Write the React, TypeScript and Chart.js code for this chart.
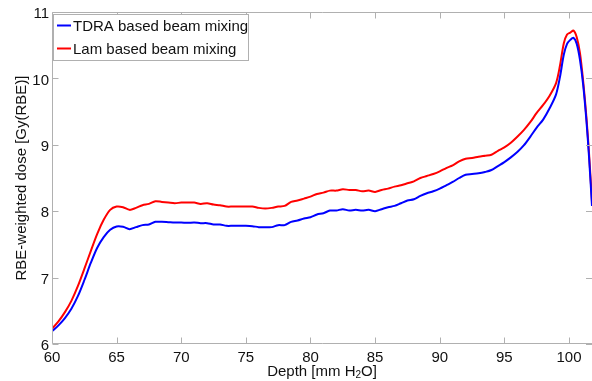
import React, { useEffect, useRef } from "react";
import { Chart, registerables } from "chart.js";

Chart.register(...registerables);

const depth = [
  60.0, 60.5, 61.0, 61.5, 62.0, 62.5, 63.0, 63.5, 64.0, 64.5, 65.0, 65.5, 66.0, 66.5, 67.0, 67.5,
  68.0, 68.5, 69.0, 69.5, 70.0, 70.5, 71.0, 71.5, 72.0, 72.5, 73.0, 73.5, 74.0, 74.5, 75.0, 75.5,
  76.0, 76.5, 77.0, 77.5, 78.0, 78.5, 79.0, 79.5, 80.0, 80.5, 81.0, 81.5, 82.0, 82.5, 83.0, 83.5,
  84.0, 84.5, 85.0, 85.5, 86.0, 86.5, 87.0, 87.5, 88.0, 88.5, 89.0, 89.5, 90.0, 90.5, 91.0, 91.5,
  92.0, 92.5, 93.0, 93.5, 94.0, 94.5, 95.0, 95.5, 96.0, 96.5, 97.0, 97.5, 98.0, 98.5, 99.0, 99.3,
  99.6, 99.85, 100.1, 100.35, 100.6, 100.85, 101.1, 101.35, 101.55, 101.78,
];

const tdraDose = [
  6.19, 6.28, 6.39, 6.53, 6.72, 6.96, 7.22, 7.45, 7.61, 7.72, 7.77, 7.765, 7.73, 7.76, 7.79, 7.8,
  7.84, 7.84, 7.835, 7.83, 7.83, 7.825, 7.83, 7.82, 7.82, 7.8, 7.8, 7.78, 7.78, 7.78, 7.78, 7.775,
  7.76, 7.76, 7.76, 7.79, 7.79, 7.84, 7.86, 7.89, 7.91, 7.95, 7.97, 8.01, 8.01, 8.03, 8.01, 8.02,
  8.01, 8.02, 8.0, 8.03, 8.06, 8.08, 8.12, 8.16, 8.18, 8.23, 8.27, 8.3, 8.34, 8.39, 8.44, 8.5,
  8.55, 8.56, 8.57, 8.59, 8.62, 8.68, 8.74, 8.81, 8.89, 8.99, 9.12, 9.26, 9.38, 9.55, 9.76, 10.02,
  10.36, 10.52, 10.58, 10.61, 10.52, 10.28, 9.9, 9.36, 8.82, 8.08,
];

const lamDose = [
  6.23, 6.34, 6.48, 6.65, 6.87, 7.13, 7.4, 7.66, 7.87, 8.02, 8.07, 8.06, 8.02, 8.05, 8.09, 8.11,
  8.15, 8.14, 8.13, 8.12, 8.13, 8.13, 8.13, 8.11, 8.12, 8.1, 8.09, 8.07, 8.07, 8.07, 8.07, 8.07,
  8.05, 8.04, 8.05, 8.07, 8.08, 8.14, 8.16, 8.19, 8.22, 8.26, 8.28, 8.31, 8.31, 8.33, 8.32, 8.32,
  8.3, 8.31, 8.29, 8.32, 8.34, 8.37, 8.39, 8.42, 8.45, 8.5, 8.53, 8.56, 8.6, 8.65, 8.69, 8.75,
  8.79, 8.8, 8.82, 8.835, 8.85, 8.91, 8.96, 9.03, 9.12, 9.22, 9.34, 9.48, 9.6, 9.74, 9.93, 10.19,
  10.53, 10.66, 10.69, 10.72, 10.62, 10.38, 9.95, 9.41, 8.87, 8.15,
];

const xTicks = [60, 65, 70, 75, 80, 85, 90, 95, 100];
const yTicks = [6, 7, 8, 9, 10, 11];
const seriesNames = ["TDRA based beam mixing", "Lam based beam mixing"];
const seriesColors = ["#0000ff", "#ff0000"];

const FONT = '"Liberation Sans", Arial, Helvetica, sans-serif';

const framePlugin = {
  id: "frame",
  afterDraw(chart: any) {
    const { ctx, chartArea } = chart;
    const { left, top, right, bottom } = chartArea;
    const xs = chart.scales.x;
    const ys = chart.scales.y;
    ctx.save();
    ctx.strokeStyle = "#b0b0b0";
    ctx.lineWidth = 1;
    const L = Math.round(left) + 0.5;
    const T = Math.round(top) + 0.5;
    const B = Math.round(bottom) - 0.5;
    const R = Math.round(right);
    ctx.beginPath();
    ctx.moveTo(L, T);
    ctx.lineTo(R, T);
    ctx.moveTo(L, T);
    ctx.lineTo(L, B);
    ctx.lineTo(R, B);
    const tl = 6;
    xTicks.forEach((v) => {
      const px = Math.round(xs.getPixelForValue(v)) + 0.5;
      ctx.moveTo(px, B);
      ctx.lineTo(px, B - tl);
      ctx.moveTo(px, T);
      ctx.lineTo(px, T + tl);
    });
    yTicks.forEach((v) => {
      const py = Math.round(ys.getPixelForValue(v)) + 0.5;
      ctx.moveTo(L, py);
      ctx.lineTo(L + tl, py);
      ctx.moveTo(R, py);
      ctx.lineTo(R - tl, py);
    });
    ctx.stroke();

    // axis titles
    ctx.fillStyle = "#111";
    ctx.font = `15px ${FONT}`;
    ctx.textAlign = "center";
    ctx.textBaseline = "middle";
    ctx.save();
    ctx.translate(22, (top + bottom) / 2);
    ctx.rotate(-Math.PI / 2);
    ctx.fillText("RBE-weighted dose [Gy(RBE)]", 0, 0);
    ctx.restore();

    const p1 = "Depth [mm H";
    const p2 = "2";
    const p3 = "O]";
    ctx.font = `15px ${FONT}`;
    const w1 = ctx.measureText(p1).width;
    const w3 = ctx.measureText(p3).width;
    ctx.font = `10px ${FONT}`;
    const w2 = ctx.measureText(p2).width;
    const total = w1 + w2 + w3;
    let sx = (left + right) / 2 - total / 2;
    const ty = 371.5;
    ctx.textAlign = "left";
    ctx.font = `15px ${FONT}`;
    ctx.fillText(p1, sx, ty);
    sx += w1;
    ctx.font = `10px ${FONT}`;
    ctx.fillText(p2, sx, ty + 4);
    sx += w2;
    ctx.font = `15px ${FONT}`;
    ctx.fillText(p3, sx, ty);

    // legend
    const lx = 53.5;
    const ly = 14.5;
    const lw = 195;
    const lh = 46;
    ctx.fillStyle = "#ffffff";
    ctx.fillRect(lx, ly, lw, lh);
    ctx.strokeStyle = "#b0b0b0";
    ctx.lineWidth = 1;
    ctx.strokeRect(lx, ly, lw, lh);
    const rows = [25.5, 48.5];
    seriesNames.forEach((name, i) => {
      ctx.strokeStyle = seriesColors[i];
      ctx.lineWidth = 2;
      ctx.beginPath();
      ctx.moveTo(57, rows[i]);
      ctx.lineTo(71, rows[i]);
      ctx.stroke();
      ctx.fillStyle = "#111";
      ctx.font = `15px ${FONT}`;
      ctx.textAlign = "left";
      ctx.textBaseline = "middle";
      ctx.fillText(name, 73, rows[i] + 1.5);
    });
    ctx.restore();
  },
};

export default function App() {
  const canvasRef = useRef<HTMLCanvasElement | null>(null);

  useEffect(() => {
    document.body.style.margin = "0";
    document.body.style.overflow = "hidden";
    const canvas = canvasRef.current;
    if (!canvas) return;
    const chart = new Chart(canvas, {
      type: "line",
      data: {
        datasets: [
          {
            label: seriesNames[0],
            data: depth.map((d, i) => ({ x: d, y: tdraDose[i] })),
            borderColor: seriesColors[0],
            backgroundColor: seriesColors[0],
            borderWidth: 2,
            pointRadius: 0,
            tension: 0.3,
            fill: false,
          },
          {
            label: seriesNames[1],
            data: depth.map((d, i) => ({ x: d, y: lamDose[i] })),
            borderColor: seriesColors[1],
            backgroundColor: seriesColors[1],
            borderWidth: 2,
            pointRadius: 0,
            tension: 0.3,
            fill: false,
          },
        ],
      },
      options: {
        responsive: false,
        animation: false,
        devicePixelRatio: 1,
        layout: { padding: { top: 12, right: 0, bottom: 0, left: 0 } },
        plugins: {
          legend: { display: false },
          tooltip: { enabled: false },
        },
        scales: {
          x: {
            type: "linear",
            min: 60,
            max: 101.78,
            afterBuildTicks: (s: any) => {
              s.ticks = xTicks.map((v) => ({ value: v }));
            },
            afterFit: (s: any) => {
              s.height = 37;
            },
            grid: { display: false, drawTicks: false },
            border: { display: false },
            ticks: {
              padding: 5,
              maxRotation: 0,
              color: "#111",
              font: { family: FONT, size: 15 },
              callback: (v: any) => String(v),
            },
          },
          y: {
            type: "linear",
            min: 6,
            max: 11,
            afterBuildTicks: (s: any) => {
              s.ticks = yTicks.map((v) => ({ value: v }));
            },
            afterFit: (s: any) => {
              s.width = 52;
            },
            grid: { display: false, drawTicks: false },
            border: { display: false },
            ticks: {
              padding: 3,
              labelOffset: 2,
              color: "#111",
              font: { family: FONT, size: 15 },
              callback: (v: any) => String(v),
            },
          },
        },
      },
      plugins: [framePlugin],
    });
    return () => chart.destroy();
  }, []);

  return (
    <div style={{ width: 592, height: 381, overflow: "hidden", background: "#fff" }}>
      <canvas ref={canvasRef} width={592} height={381} style={{ display: "block", width: 592, height: 381 }} />
    </div>
  );
}
